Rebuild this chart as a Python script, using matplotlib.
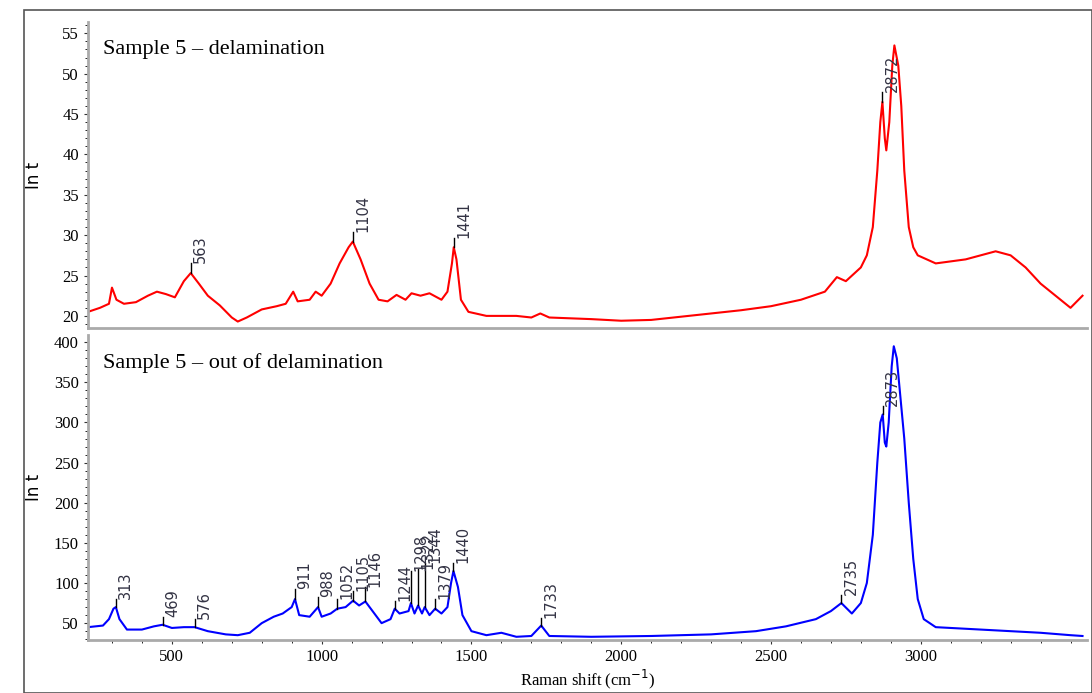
import matplotlib
matplotlib.use('Agg')
import matplotlib.pyplot as plt
from matplotlib.ticker import MultipleLocator
import numpy as np

# spectrum top: sample 5, delamination
top_x = [220, 260, 290, 300, 315, 340, 380, 420, 450, 480, 510, 540, 563, 590, 620, 660, 700, 720, 750,
         800, 850, 880, 905, 920, 960, 980, 1000, 1030, 1060, 1090, 1104, 1130, 1160, 1190, 1220, 1250,
         1280, 1300, 1330, 1360, 1400, 1420, 1435, 1441, 1450, 1465, 1490, 1550, 1650, 1700, 1730, 1760,
         1900, 2000, 2100, 2200, 2300, 2400, 2500, 2600, 2680, 2720, 2750, 2800, 2820, 2840, 2855, 2865,
         2872, 2880, 2885, 2895, 2905, 2912, 2925, 2935, 2945, 2960, 2975, 2990, 3050, 3150, 3250, 3300,
         3350, 3400, 3450, 3500, 3540]
top_y = [20.5, 21, 21.5, 23.5, 22, 21.5, 21.7, 22.5, 23, 22.7, 22.3, 24.3, 25.3, 24, 22.5, 21.3, 19.8, 19.3, 19.8,
         20.8, 21.2, 21.5, 23, 21.8, 22, 23, 22.5, 24, 26.5, 28.5, 29.2, 27, 24, 22, 21.8, 22.6,
         22, 22.8, 22.5, 22.8, 22, 23, 26.5, 28.5, 27, 22, 20.5, 20, 20, 19.8, 20.3, 19.8,
         19.6, 19.4, 19.5, 19.9, 20.3, 20.7, 21.2, 22, 23, 24.8, 24.3, 26, 27.5, 31, 38, 44,
         46.5, 42, 40.5, 44, 51, 53.5, 51, 46, 38, 31, 28.5, 27.5, 26.5, 27, 28, 27.5,
         26, 24, 22.5, 21, 22.5]
top_peaks = [563, 1104, 1441, 2872]

# spectrum bottom: sample 5, out of delamination
bot_x = [220, 270, 290, 305, 313, 325, 350, 400, 440, 469, 500, 540, 576, 620, 680, 720, 760, 800, 840, 870,
         900, 911, 925, 960, 988, 1000, 1030, 1052, 1080, 1105, 1125, 1146, 1170, 1200, 1230, 1244, 1260,
         1290, 1298, 1310, 1322, 1335, 1344, 1360, 1379, 1400, 1420, 1432, 1440, 1455, 1470, 1500, 1550, 1600,
         1650, 1700, 1733, 1760, 1900, 2100, 2300, 2450, 2550, 2650, 2700, 2735, 2770, 2800, 2820, 2840, 2855,
         2865, 2873, 2880, 2885, 2893, 2903, 2910, 2920, 2930, 2945, 2960, 2975, 2990, 3010, 3050, 3200,
         3300, 3400, 3500, 3540]
bot_y = [45, 47, 55, 68, 70, 55, 42, 42, 46, 48, 44, 45, 45, 40, 36, 35, 38, 50, 58, 62,
         70, 80, 60, 58, 70, 58, 62, 68, 70, 78, 72, 77, 65, 50, 55, 68, 62,
         65, 75, 62, 72, 62, 70, 60, 68, 62, 70, 100, 115, 95, 60, 40, 35, 38,
         33, 34, 47, 34, 33, 34, 36, 40, 46, 55, 65, 75, 62, 75, 100, 160, 250,
         300, 310, 275, 270, 300, 370, 395, 380, 340, 280, 200, 130, 80, 55, 45, 42,
         40, 38, 35, 34]
bot_peaks = [313, 469, 576, 911, 988, 1052, 1105, 1146, 1244, 1298, 1322, 1344, 1379, 1440, 1733, 2735, 2873]
bot_stick = [10, 10, 10, 12, 12, 12, 12, 18, 10, 40, 45, 55, 12, 10, 10, 10, 10]

fig = plt.figure(figsize=(10.92, 6.93), dpi=100)
fig.patches.append(plt.Rectangle((24 / 1092, 0.0), 1 - 24 / 1092, 1 - 10 / 693, transform=fig.transFigure,
                                 fill=False, edgecolor='#555555', lw=1.2))
L, R = 88 / 1092, 1087 / 1092
ax1 = fig.add_axes([L, 1 - 328 / 693, R - L, 306 / 693])
ax2 = fig.add_axes([L, 1 - 640 / 693, R - L, 305 / 693])


def draw(ax, x, y, peaks, sticks, color, ylim, step, title):
    ax.plot(x, y, color=color, lw=1.5)
    ax.set_xlim(220, 3555)
    ax.set_ylim(*ylim)
    ax.yaxis.set_major_locator(MultipleLocator(step))
    ax.yaxis.set_minor_locator(MultipleLocator(step / 5))
    ax.xaxis.set_major_locator(MultipleLocator(500))
    ax.xaxis.set_minor_locator(MultipleLocator(100))
    for s in ['top', 'right']:
        ax.spines[s].set_visible(False)
    for s in ['left', 'bottom']:
        ax.spines[s].set_color('#aaaaaa')
        ax.spines[s].set_linewidth(2)
    ax.tick_params(labelsize=12, length=3, color='#333333')
    ax.tick_params(which='minor', length=2)
    for lab in ax.get_yticklabels():
        lab.set_fontfamily('Liberation Serif')
    ax.set_ylabel('In t', fontsize=12, family='DejaVu Sans')
    ax.yaxis.set_label_coords(-0.045, 0.5)
    ax.text(0.015, 0.94, title, transform=ax.transAxes, fontsize=16, family='Liberation Serif', va='top')
    for p, off in zip(peaks, sticks):
        py = np.interp(p, x, y)
        ax.plot([p, p], [py, py + off], color='k', lw=1)
        ax.text(p + 8, py + off, str(p), rotation=90, fontsize=10.5, color='#333344',
                ha='left', va='bottom')


draw(ax1, top_x, top_y, top_peaks, [1.2] * 4, '#ff0000', (18.5, 56.4), 5, 'Sample 5 \u2013 delamination')
draw(ax2, bot_x, bot_y, bot_peaks, bot_stick, '#0000ff', (29, 409), 50, 'Sample 5 \u2013 out of delamination')
ax1.set_xticklabels([])
ax1.tick_params(axis='x', length=0, which='both')
ax2.set_xticks([500, 1000, 1500, 2000, 2500, 3000])
ax2.set_xticks([3500], minor=False) if False else None
for lab in ax2.get_xticklabels():
    lab.set_fontfamily('Liberation Serif')
ax2.set_xlabel('Raman shift (cm$^{-1}$)', fontsize=12, family='Liberation Serif', labelpad=2)

plt.savefig('out.png', dpi=100)
